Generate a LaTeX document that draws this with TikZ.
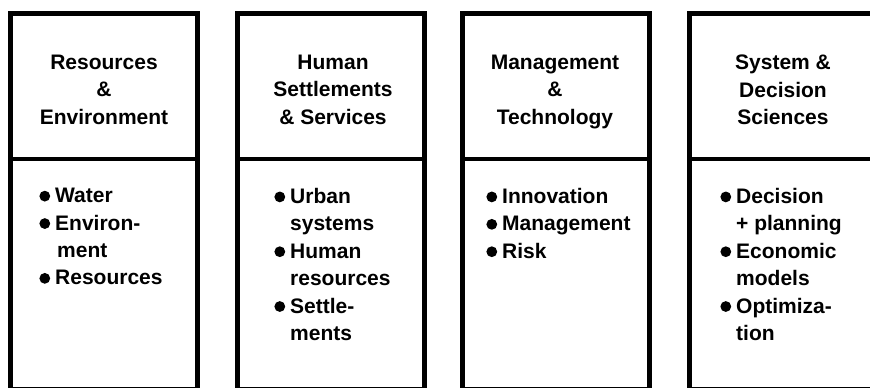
\documentclass[tikz,border=0pt]{standalone}
\usepackage{fontspec}
\setmainfont{Liberation Sans}
\usetikzlibrary{positioning}
\tikzset{panel/.style={draw,line width=5pt,minimum width=187pt,minimum height=376.5pt,inner sep=0pt},
  head/.style={anchor=north,align=center,inner sep=0pt,font=\bfseries\fontsize{21}{27.3}\selectfont},
  items/.style={anchor=north west,align=left,inner sep=0pt,font=\bfseries\fontsize{21}{27.4}\selectfont}}
\newcommand{\itm}{\llap{\tikz[baseline=-6.5pt]\fill (0pt,0pt) circle (5.4pt);\hspace{5pt}}}

\begin{document}
\begin{tikzpicture}[x=1pt,y=-1pt]
\useasboundingbox (0,0) rectangle (870,388);
\node[panel] (res) at (104,201.25) {};
\node[panel] (hum) at (331,201.25) {};
\node[panel] (man) at (556,201.25) {};
\node[panel] (sys) at (783,201.25) {};
\foreach \b in {res,hum,man,sys}
  \draw[line width=3.5pt] (\b.west |- 0,159) -- (\b.east |- 0,159);
\node[head] (resHead) at (104,55) {Resources\\\&\\Environment};
\node[head] (humHead) at (333,55) {Human\\Settlements\\\& Services};
\node[head] (manHead) at (555,55) {Management\\\&\\Technology};
\node[head] (sysHead) at (783,55) {System \&\\Decision\\Sciences};
\node[items] (resList) at (55,188) {\itm Water\\\itm Environ-\\\hspace{2pt}ment\\\itm Resources};
\node[items] (humList) at (290,188) {\itm Urban\\systems\\\itm Human\\resources\\\itm Settle-\\ments};
\node[items] (manList) at (502,188) {\itm Innovation\\\itm Management\\\itm Risk};
\node[items] (sysList) at (736,188) {\itm Decision\\+ planning\\\itm Economic\\models\\\itm Optimiza-\\tion};
\end{tikzpicture}
\end{document}
